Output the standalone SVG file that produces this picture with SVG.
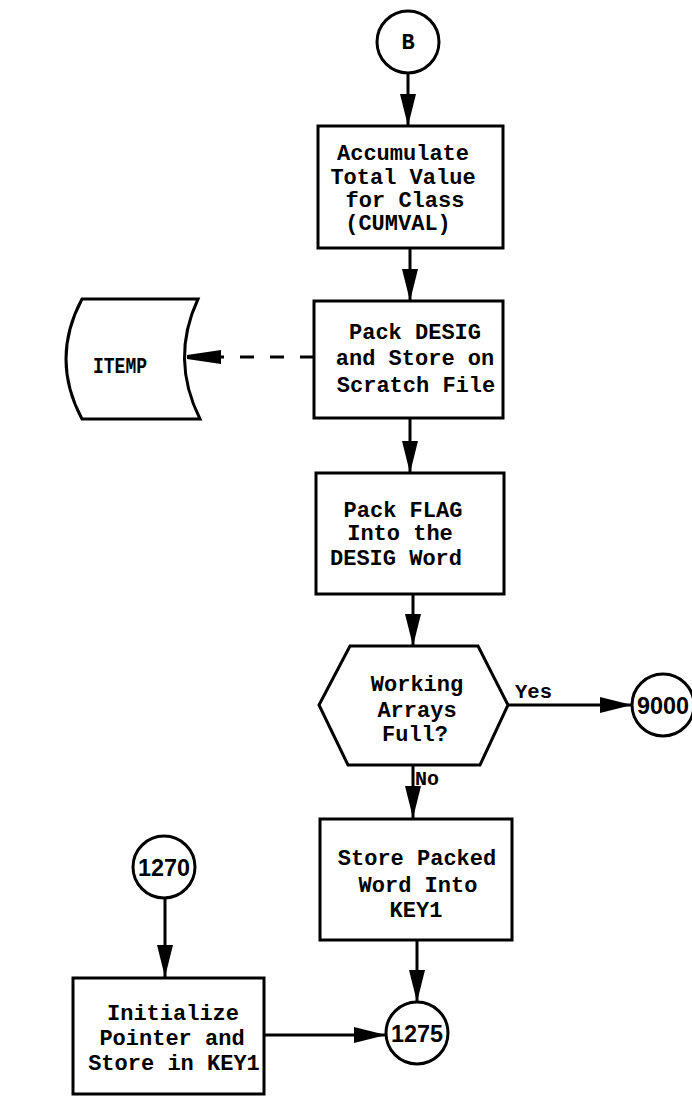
<svg xmlns="http://www.w3.org/2000/svg" width="692" height="1098" viewBox="0 0 692 1098">
<style>
.s{fill:#fff;stroke:#000;stroke-width:3}
.t{font-family:"Liberation Mono",monospace;font-weight:bold;font-size:22px;text-anchor:middle;fill:#000}
.n{font-family:"Liberation Sans",Arial,sans-serif;font-weight:bold;font-size:24px;text-anchor:middle;fill:#000}
.c{fill:none;stroke:#000;stroke-width:3}
.l{font-family:"Liberation Mono",monospace;font-weight:bold;font-size:20px;fill:#000}
</style>
<defs>
<marker id="ah" markerUnits="userSpaceOnUse" markerWidth="32" markerHeight="16" refX="32" refY="8" orient="auto">
<path d="M0,0 L32,8 L0,16 z" fill="#000"/>
</marker>
<marker id="ahs" markerUnits="userSpaceOnUse" markerWidth="34" markerHeight="14" refX="34" refY="7" orient="auto">
<path d="M0,0 L34,5 L34,9 L0,14 z" fill="#000"/>
</marker>
</defs>
<rect width="692" height="1098" fill="#fff"/>
<g id="connectors">
<line class="c" x1="408" y1="73" x2="408" y2="126" marker-end="url(#ah)"/>
<line class="c" x1="410" y1="248" x2="410" y2="301" marker-end="url(#ah)"/>
<line class="c" x1="314" y1="357" x2="187" y2="357" stroke-dasharray="14,16" marker-end="url(#ahs)"/>
<line class="c" x1="410" y1="418" x2="410" y2="473" marker-end="url(#ah)"/>
<line class="c" x1="413" y1="594" x2="413" y2="646" marker-end="url(#ah)"/>
<line class="c" x1="508" y1="705" x2="632" y2="705" marker-end="url(#ah)"/>
<text class="l" x="515" y="698" textLength="37" lengthAdjust="spacingAndGlyphs">Yes</text>
<line class="c" x1="413" y1="765" x2="413" y2="818" marker-end="url(#ah)"/>
<text class="l" x="415" y="785">No</text>
<line class="c" x1="417" y1="940" x2="417" y2="1002" marker-end="url(#ah)"/>
<line class="c" x1="165" y1="898" x2="165" y2="977" marker-end="url(#ah)"/>
<line class="c" x1="264" y1="1035" x2="386" y2="1035" marker-end="url(#ah)"/>
</g>
<g id="nodeB">
<circle class="s" cx="408" cy="42" r="31"/>
<text class="t" x="408" y="49" font-size="18">B</text>
</g>
<g id="accumulate">
<rect class="s" x="318" y="126" width="185" height="122"/>
<text class="t" x="403" y="160">Accumulate</text>
<text class="t" x="403" y="184">Total Value</text>
<text class="t" x="405" y="207">for Class</text>
<text class="t" x="398" y="230">(CUMVAL)</text>
</g>
<g id="packdesig">
<rect class="s" x="314" y="301" width="189" height="117"/>
<text class="t" x="415" y="339">Pack DESIG</text>
<text class="t" x="415" y="365">and Store on</text>
<text class="t" x="416" y="392">Scratch File</text>
</g>
<g id="itemp">
<path class="s" d="M82,299 L198,299 Q170,359 200,419 L82,419 Q50,359 82,299 Z"/>
<text class="t" x="120" y="373" font-size="19" textLength="54" lengthAdjust="spacingAndGlyphs">ITEMP</text>
</g>
<g id="packflag">
<rect class="s" x="316" y="473" width="188" height="121"/>
<text class="t" x="403" y="517">Pack FLAG</text>
<text class="t" x="400" y="540">Into the</text>
<text class="t" x="396" y="565">DESIG Word</text>
</g>
<g id="decision">
<polygon class="s" points="350,646 478,646 508,705 480,765 348,765 319,705"/>
<text class="t" x="417" y="691">Working</text>
<text class="t" x="417" y="717">Arrays</text>
<text class="t" x="415" y="741">Full?</text>
</g>
<g id="node9000">
<circle class="s" cx="663" cy="705" r="31"/>
<text class="n" x="663" y="714" textLength="52" lengthAdjust="spacingAndGlyphs" font-weight="normal">9000</text>
</g>
<g id="storepacked">
<rect class="s" x="320" y="819" width="192" height="121"/>
<text class="t" x="417" y="865">Store Packed</text>
<text class="t" x="418" y="892">Word Into</text>
<text class="t" x="416" y="917">KEY1</text>
</g>
<g id="node1270">
<circle class="s" cx="164" cy="867" r="31"/>
<text class="n" x="164" y="876" textLength="52" lengthAdjust="spacingAndGlyphs">1270</text>
</g>
<g id="initialize">
<rect class="s" x="73" y="978" width="191" height="116"/>
<text class="t" x="173" y="1020">Initialize</text>
<text class="t" x="172" y="1045">Pointer and</text>
<text class="t" x="174" y="1070">Store in KEY1</text>
</g>
<g id="node1275">
<circle class="s" cx="417" cy="1033" r="31"/>
<text class="n" x="417" y="1042" textLength="52" lengthAdjust="spacingAndGlyphs">1275</text>
</g>
</svg>
